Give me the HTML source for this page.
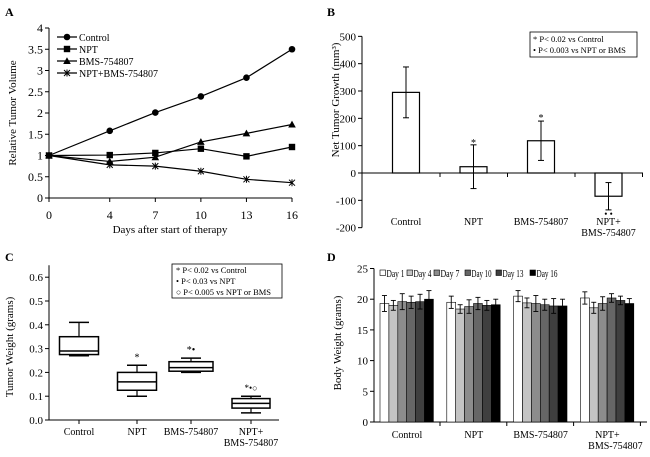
<!DOCTYPE html>
<html><head><meta charset="utf-8"><style>
body{margin:0;background:#fff}
svg{display:block;font-family:"Liberation Serif",serif}
</style></head><body>
<svg id="s" width="650" height="457" viewBox="0 0 650 457">
<g fill="#000" font-weight="bold" font-size="12">
<text x="5" y="16">A</text>
<text x="327" y="16">B</text>
<text x="5" y="261">C</text>
<text x="327" y="261">D</text>
</g>
<g id="A"></g>
<g id="B"></g>
<g id="C"></g>
<g id="D"></g>
</svg>
<script>
// Panel A data
const daysA=[0,4,7,10,13,16];
const aControl=[1,1.58,2.01,2.39,2.83,3.5];
const aNPT=[1,1.01,1.06,1.16,0.98,1.2];
const aBMS=[1,0.86,0.96,1.32,1.52,1.73];
const aCombo=[1,0.78,0.75,0.63,0.44,0.36];
const aNames=["Control","NPT","BMS-754807","NPT+BMS-754807"];
const aTicksY=[0,0.5,1,1.5,2,2.5,3,3.5,4];
// Panel B data
const bCats=["Control","NPT","BMS-754807","NPT+"];
const bVals=[295,23,118,-85];
const bErr=[93,80,72,50];
const bTicks=[-200,-100,0,100,200,300,400,500];
// Panel C data
const cCats=["Control","NPT","BMS-754807","NPT+"];
const cMin=[0.27,0.10,0.20,0.03];
const cQ1=[0.275,0.125,0.205,0.05];
const cMed=[0.29,0.16,0.22,0.07];
const cQ3=[0.35,0.20,0.245,0.09];
const cMax=[0.41,0.23,0.26,0.10];
const cTicks=[0,0.1,0.2,0.3,0.4,0.5,0.6];
// Panel D data
const dCats=["Control","NPT","BMS-754807","NPT+"];
const dDays=["Day 1","Day 4","Day 7","Day 10","Day 13","Day 16"];
const dControl=[19.3,19.0,19.6,19.5,19.6,20.0];
const dNPT=[19.5,18.4,18.8,19.3,19.0,19.1];
const dBMS=[20.5,19.4,19.3,19.1,18.9,18.9];
const dCombo=[20.2,18.6,19.3,20.2,19.8,19.3];
const dErrControl=[1.3,0.8,1.3,1.0,1.2,1.4];
const dErrNPT=[1.0,0.7,1.1,1.0,0.8,0.9];
const dErrBMS=[0.9,0.8,1.3,0.9,1.2,1.1];
const dErrCombo=[1.0,0.9,1.1,0.7,0.7,0.8];
const dTicks=[0,5,10,15,20,25];

const NS="http://www.w3.org/2000/svg";
function el(p,t,a,txt){const e=document.createElementNS(NS,t);for(const k in a)e.setAttribute(k,a[k]);if(txt!==undefined)e.textContent=txt;p.appendChild(e);return e;}
function ln(p,x1,y1,x2,y2,w){return el(p,'line',{x1,y1,x2,y2,stroke:'#000','stroke-width':w||1});}
function tx(p,x,y,s,fs,anc){return el(p,'text',{x,y,'font-size':fs||11,'text-anchor':anc||'middle'},s);}

// ---------- A ----------
(function(){
const g=document.getElementById('A');
const X=d=>49+d*(243/16), Y=v=>198-v*42.5;
let e=ln(g,49,Y(4),49,198);


e=ln(g,49,198,292,198);


aTicksY.forEach(v=>{ln(g,45,Y(v),49,Y(v));const t=tx(g,43,Y(v)+4,String(v),12,'end');

});
daysA.forEach(d=>{ln(g,X(d),198,X(d),202);const t=tx(g,X(d),219,String(d),12);

});
let t=tx(g,170,233,'Days after start of therapy',11);


t=tx(g,0,0,'Relative Tumor Volume',11);t.setAttribute('transform','translate(16,113) rotate(-90)');


const series=[aControl,aNPT,aBMS,aCombo];
function marker(p,k,x,y){
 if(k==0)el(p,'circle',{cx:x,cy:y,r:3.3,fill:'#000'});
 else if(k==1)el(p,'rect',{x:x-3.2,y:y-3.2,width:6.4,height:6.4,fill:'#000'});
 else if(k==2)el(p,'polygon',{points:`${x},${y-3.8} ${x-3.8},${y+3} ${x+3.8},${y+3}`,fill:'#000'});
 else{ln(p,x-3,y-3,x+3,y+3);ln(p,x-3,y+3,x+3,y-3);ln(p,x,y-3.5,x,y+3.5);}
}
series.forEach((s,k)=>{
 const sg=el(g,'g',{});
 
 
 el(sg,'polyline',{points:s.map((v,i)=>X(daysA[i])+','+Y(v)).join(' '),fill:'none',stroke:'#000','stroke-width':1.2});
 s.forEach((v,i)=>marker(sg,k,X(daysA[i]),Y(v)));
 const ly=37+k*12;
 const lg=el(g,'g',{});
 
 
 ln(lg,57,ly,77,ly,1.2);marker(lg,k,67,ly);tx(lg,79,ly+4,aNames[k],10,'start');
});
})();

// ---------- B ----------
(function(){
const g=document.getElementById('B');
const Y=v=>173-v*0.2733, cx=i=>406+i*67.5;
let e=ln(g,362,Y(500),362,Y(-200));


e=ln(g,362,173,643,173);


bTicks.forEach(v=>{ln(g,358,Y(v),362,Y(v));const t=tx(g,356,Y(v)+4,String(v),11,'end');

});
[0,1,2,3].forEach(i=>ln(g,cx(i)+34,173,cx(i)+34,177));
bVals.forEach((v,i)=>{
 const r=el(g,'rect',{x:cx(i)-13.5,y:Math.min(Y(v),Y(0)),width:27,height:Math.abs(Y(v)-Y(0)),fill:'#fff',stroke:'#000','stroke-width':1.2});
 
 
 const t=Y(v+bErr[i]),b=Y(v-bErr[i]);
 ln(g,cx(i),t,cx(i),b,1);ln(g,cx(i)-3,t,cx(i)+3,t);ln(g,cx(i)-3,b,cx(i)+3,b);
 const l=tx(g,cx(i),225,bCats[i],10);
 
 
});
tx(g,cx(3),236,'BMS-754807',10);
tx(g,cx(1),146,'*',10);tx(g,cx(2),121,'*',10);tx(g,cx(3),217,'• •',9);
let t=tx(g,0,0,'Net Tumor Growth (mm³)',11);t.setAttribute('transform','translate(339,100) rotate(-90)');


const lg=el(g,'g',{});


el(lg,'rect',{x:530,y:32,width:107,height:25,fill:'#fff',stroke:'#000','stroke-width':0.8});
tx(lg,533,42,'* P< 0.02 vs Control',8.5,'start');tx(lg,533,53,'• P< 0.003 vs NPT or BMS',8.5,'start');
})();

// ---------- C ----------
(function(){
const g=document.getElementById('C');
const Y=v=>420-v*238, cxs=[79,137,191,251], w=[39,39,44,38];
let e=ln(g,49,Y(0.65),49,420);


e=ln(g,49,420,279,420);


cTicks.forEach(v=>{ln(g,45,Y(v),49,Y(v));const t=tx(g,43,Y(v)+4,v.toFixed(1),11,'end');

});
cCats.forEach((c,i)=>{
 const x=cxs[i],hw=w[i]/2;
 const bg=el(g,'g',{});
 
 
 ln(bg,x,420,x,424);
 ln(bg,x,Y(cMax[i]),x,Y(cQ3[i]),1.2);ln(bg,x,Y(cQ1[i]),x,Y(cMin[i]),1.2);
 ln(bg,x-10,Y(cMax[i]),x+10,Y(cMax[i]),1.5);ln(bg,x-10,Y(cMin[i]),x+10,Y(cMin[i]),1.5);
 el(bg,'rect',{x:x-hw,y:Y(cQ3[i]),width:w[i],height:Y(cQ1[i])-Y(cQ3[i]),fill:'#fff',stroke:'#000','stroke-width':1.5});
 ln(bg,x-hw,Y(cMed[i]),x+hw,Y(cMed[i]),1.5);
 const l=tx(g,x,435,c,10);
 
 
});
tx(g,cxs[3],446,'BMS-754807',10);
tx(g,cxs[1],Y(cMax[1])-5,'*',10);tx(g,cxs[2],Y(cMax[2])-5,'*•',10);tx(g,cxs[3],Y(cMax[3])-5,'*•○',9);
let t=tx(g,0,0,'Tumor Weight (grams)',11);t.setAttribute('transform','translate(13,347) rotate(-90)');


const lg=el(g,'g',{});


el(lg,'rect',{x:172,y:264,width:110,height:34,fill:'#fff',stroke:'#000','stroke-width':0.8});
tx(lg,176,273,'* P< 0.02 vs Control',8.5,'start');tx(lg,176,284,'• P< 0.03 vs NPT',8.5,'start');tx(lg,176,295,'○ P< 0.005 vs NPT or BMS',8.5,'start');
})();

// ---------- D ----------
(function(){
const g=document.getElementById('D');
const Y=v=>422-v*6.14, gx=i=>380+i*66.8, bw=8.9;
const cols=['#fff','#c4c4c4','#8c8c8c','#666','#3f3f3f','#000'];
const vals=[dControl,dNPT,dBMS,dCombo], errs=[dErrControl,dErrNPT,dErrBMS,dErrCombo];
let e=ln(g,374,Y(25),374,422);


e=ln(g,374,422,647,422);


dTicks.forEach(v=>{ln(g,370,Y(v),374,Y(v));const t=tx(g,368,Y(v)+4,String(v),11,'end');

});
[0,1,2,3].forEach(i=>ln(g,gx(i)+60,422,gx(i)+60,426));
vals.forEach((s,i)=>{
 s.forEach((v,j)=>{
  const x=gx(i)+j*bw;
  const r=el(g,'rect',{x,y:Y(v),width:bw,height:Y(0)-Y(v),fill:cols[j],stroke:'#000','stroke-width':0.6});
  
  
  const c=x+bw/2,t=Y(v+errs[i][j]),b=Y(v-errs[i][j]);
  ln(g,c,t,c,b,0.9);ln(g,c-2.5,t,c+2.5,t,0.9);ln(g,c-2.5,b,c+2.5,b,0.9);
 });
 const l=tx(g,gx(i)+27,438,dCats[i],10);
 
 
});
tx(g,gx(3)+35,449,'BMS-754807',10);
let t=tx(g,0,0,'Body Weight (grams)',11);t.setAttribute('transform','translate(341,343) rotate(-90)');


const lx=[380,407,434,465,496,530];
const lw=[18,18,19,20,21,21];
dDays.forEach((d,j)=>{
 const lg=el(g,'g',{});
 
 
 el(lg,'rect',{x:lx[j],y:270,width:5.5,height:5.5,fill:cols[j],stroke:'#000','stroke-width':0.6});
 const tt=tx(lg,lx[j]+6.5,277,d,10,'start');
 tt.setAttribute('textLength',lw[j]);
 tt.setAttribute('lengthAdjust','spacingAndGlyphs');
});
})();
</script>
</body></html>
